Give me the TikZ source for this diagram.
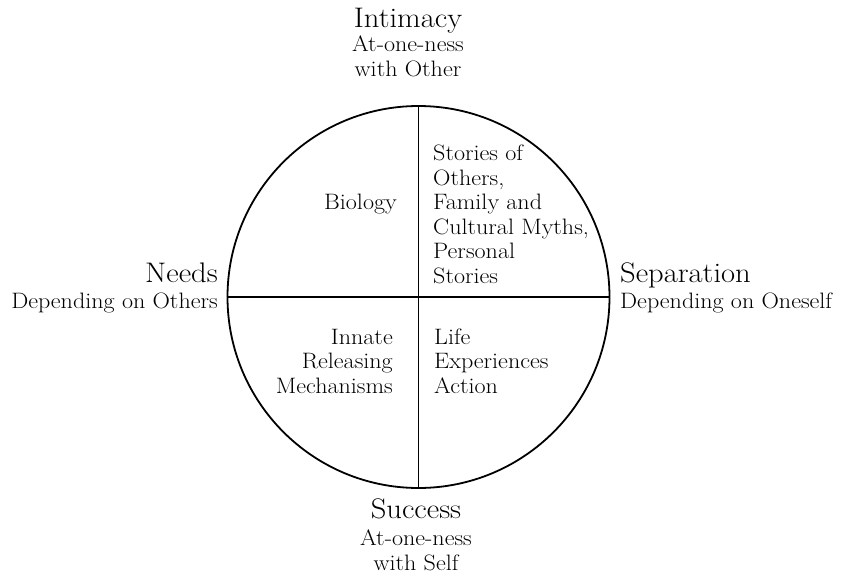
\documentclass[tikz,border=0pt]{standalone}
\usepackage{fontspec}
\setmainfont{Latin Modern Roman}[FakeStretch=1.08]
\begin{document}
\begin{tikzpicture}[x=1pt,y=-1pt,
  small/.style={inner sep=0pt, font=\fontsize{22.3}{24.5}\selectfont},
  big/.style={inner sep=0pt, font=\fontsize{28.3}{30}\selectfont},
  ring/.style={line width=1.8pt}]
\useasboundingbox (0,0) rectangle (841,581);
\coordinate (c) at (418.5,297);
\draw[ring] (c) circle[radius=191];
\coordinate (top) at (418.5,106);
\coordinate (bot) at (418.5,488);
\coordinate (lft) at (227.5,297);
\coordinate (rgt) at (609.5,297);
\draw[ring] (top) -- (bot);
\draw[ring] (lft) -- (rgt);
% top
\node[big, anchor=base] (intimacy) at (408,27) {Intimacy};
\node[small, anchor=base, align=center] (intsub) at (408,76) {At-one-ness\\with Other};
% bottom
\node[big, anchor=base] (success) at (416,518) {Success};
\node[small, anchor=base, align=center] (sucsub) at (416,570) {At-one-ness\\with Self};
% left
\node[big, anchor=base east] (needs) at (218,282) {Needs};
\node[small, anchor=base east] (needsub) at (218,308) {Depending on Others};
% right
\node[big, anchor=base west] (sep) at (620,282) {Separation};
\node[small, anchor=base west] (sepsub) at (620,308) {Depending on Oneself};
% quadrants
\node[small, anchor=base east] (bio) at (397,209) {Biology};
\node[small, anchor=base west, align=left] (stories) at (433,283) {Stories of\\Others,\\Family and\\Cultural Myths,\\Personal\\Stories};
\node[small, anchor=base east, align=right] (innate) at (393,393) {Innate\\Releasing\\Mechanisms};
\node[small, anchor=base west, align=left] (life) at (434,393) {Life\\Experiences\\Action};
\end{tikzpicture}
\end{document}
